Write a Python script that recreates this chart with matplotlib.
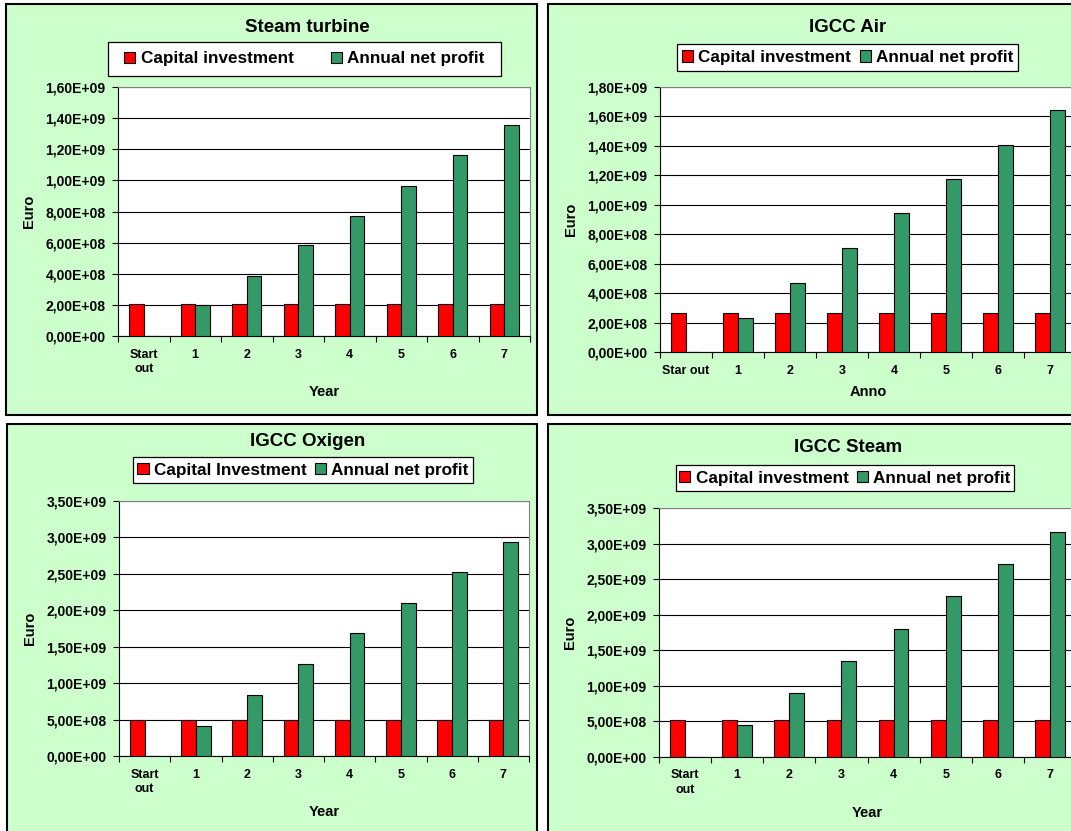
import matplotlib
matplotlib.use("Agg")
import matplotlib.pyplot as plt
import numpy as np
from matplotlib.patches import Rectangle
from matplotlib.ticker import FuncFormatter, MultipleLocator

plt.rcParams['font.family'] = ['Liberation Sans', 'DejaVu Sans']
plt.rcParams['font.weight'] = 'bold'

W, H = 1071, 831

# categories
years_a = ["Start\nout", "1", "2", "3", "4", "5", "6", "7"]
years_b = ["Star out", "1", "2", "3", "4", "5", "6", "7"]

# Steam turbine
st_capital = [2.07e8, 2.07e8, 2.07e8, 2.07e8, 2.07e8, 2.07e8, 2.07e8, 2.07e8]
st_profit = [0, 1.98e8, 3.88e8, 5.82e8, 7.72e8, 9.66e8, 1.160e9, 1.355e9]

# IGCC Air
air_capital = [2.64e8, 2.64e8, 2.64e8, 2.64e8, 2.64e8, 2.64e8, 2.64e8, 2.64e8]
air_profit = [0, 2.33e8, 4.69e8, 7.06e8, 9.44e8, 1.177e9, 1.408e9, 1.646e9]

# IGCC Oxigen
oxy_capital = [5.0e8, 5.0e8, 5.0e8, 5.0e8, 5.0e8, 5.0e8, 5.0e8, 5.0e8]
oxy_profit = [0, 4.12e8, 8.37e8, 1.258e9, 1.684e9, 2.095e9, 2.525e9, 2.937e9]

# IGCC Steam
igs_capital = [5.25e8, 5.25e8, 5.25e8, 5.25e8, 5.25e8, 5.25e8, 5.25e8, 5.25e8]
igs_profit = [0, 4.50e8, 9.04e8, 1.349e9, 1.799e9, 2.258e9, 2.708e9, 3.158e9]

RED = "#FF0000"
GREEN = "#339966"
PANEL_BG = "#CCFFCC"


def fx(px):
    return px / W


def fy(py):
    return 1 - py / H


def excel_sci(v, pos):
    return format(v, ".2E").replace(".", ",")


def panel(fig, frame, plot, title, title_xy, leg_box, colsp, cats, xlab,
          xlab_y, cap, prof, cap_label, ymax, ystep):
    # panel frame
    x0, y0, x1, y1 = frame
    fig.patches.append(Rectangle((fx(x0), fy(y1)), (x1 - x0) / W, (y1 - y0) / H,
                                 transform=fig.transFigure, facecolor=PANEL_BG,
                                 edgecolor="black", lw=1.5, zorder=-2))
    fig.text(fx(title_xy[0]), fy(title_xy[1]), title, ha="center", va="center",
             fontsize=13.5, fontweight="bold")

    l, t, r, b = plot
    ax = fig.add_axes([fx(l), fy(b), (r - l) / W, (b - t) / H])
    ax.set_facecolor("white")
    x = np.arange(len(cats))
    w = 1 / 3.5
    h1 = ax.bar(x - w / 2, cap, w, color=RED, edgecolor="black", lw=0.8,
                zorder=3, label=cap_label)
    h2 = ax.bar(x + w / 2, prof, w, color=GREEN, edgecolor="black", lw=0.8,
                zorder=3, label="Annual net profit")

    ax.set_xlim(-0.5, len(cats) - 0.5)
    ax.set_ylim(0, ymax)
    ax.yaxis.set_major_locator(MultipleLocator(ystep))
    ax.yaxis.set_major_formatter(FuncFormatter(excel_sci))
    ax.grid(axis="y", color="black", lw=0.8, zorder=1)
    ax.set_axisbelow(True)

    ax.set_xticks(x)
    ax.set_xticklabels(cats, fontsize=9, fontweight="bold", linespacing=1.3)
    ax.set_xticks(np.arange(len(cats) + 1) - 0.5, minor=True)
    ax.tick_params(axis="x", which="major", length=0, pad=9)
    ax.tick_params(axis="x", which="minor", length=4, width=0.8, direction="out")
    ax.tick_params(axis="y", length=4, width=0.8, labelsize=10, pad=5)
    for lab in ax.get_yticklabels():
        lab.set_fontweight("bold")

    for s in ("top", "right"):
        ax.spines[s].set_color("#808080")
    for s in ("left", "bottom"):
        ax.spines[s].set_color("black")
        ax.spines[s].set_linewidth(0.8)

    ax.set_ylabel("Euro", fontsize=10.5, fontweight="bold", va="center")
    ax.yaxis.set_label_coords(-89 / (r - l), 0.5)
    ax.set_xlabel(xlab, fontsize=10.5, fontweight="bold", va="center")
    ax.xaxis.set_label_coords(0.5, (b - xlab_y) / (b - t))

    # legend box
    lx0, ly0, lx1, ly1 = leg_box
    fig.patches.append(Rectangle((fx(lx0), fy(ly1)), (lx1 - lx0) / W, (ly1 - ly0) / H,
                                 transform=fig.transFigure, facecolor="white",
                                 edgecolor="black", lw=0.9, zorder=1))
    fig.legend([h1, h2], [cap_label, "Annual net profit"], loc="center",
               bbox_to_anchor=(fx((lx0 + lx1) / 2), fy((ly0 + ly1) / 2)),
               ncol=2, frameon=False, handlelength=0.65,
               handleheight=0.65, handletextpad=0.3, columnspacing=colsp,
               borderpad=0, prop={"weight": "bold", "size": 12.3})
    return ax


fig = plt.figure(figsize=(W / 100, H / 100), dpi=100)
fig.patch.set_facecolor("white")

panel(fig, (6, 4, 537, 415), (118, 87, 530, 336), "Steam turbine", (307, 27),
      (108, 42, 501, 76), 2.2, years_a, "Year", 392,
      st_capital, st_profit, "Capital investment", 1.6e9, 2e8)
panel(fig, (548, 4, 1150, 415), (660, 87, 1076, 352), "IGCC Air", (848, 27),
      (677, 44, 1018, 71), 0.5, years_b, "Anno", 392,
      air_capital, air_profit, "Capital investment", 1.8e9, 2e8)
panel(fig, (7, 424, 537, 850), (119, 501, 529, 756), "IGCC Oxigen", (308, 442),
      (133, 457, 473, 483), 0.5, years_a, "Year", 812,
      oxy_capital, oxy_profit, "Capital Investment", 3.5e9, 5e8)
panel(fig, (548, 424, 1150, 850), (659, 508, 1076, 757), "IGCC Steam", (848, 447),
      (676, 465, 1014, 491), 0.5, years_a, "Year", 813,
      igs_capital, igs_profit, "Capital investment", 3.5e9, 5e8)

fig.savefig("out.png", dpi=100)
